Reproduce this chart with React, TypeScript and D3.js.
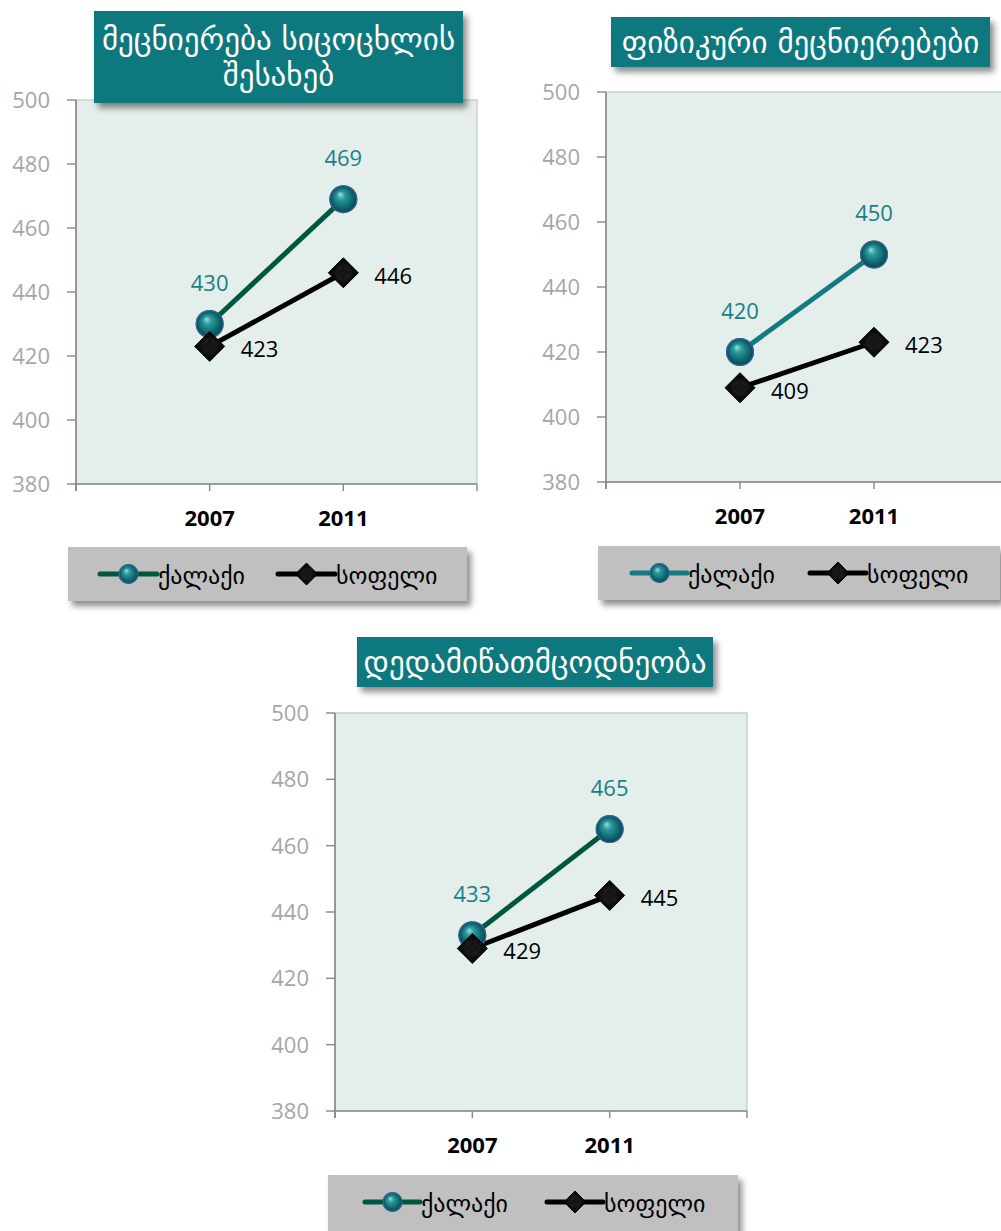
import React from "react";
import * as d3 from "d3";

// Categories and value axis
const years = ["2007", "2011"];
const yTicks = [380, 400, 420, 440, 460, 480, 500];
const yDomain = [380, 500];

// Series labels
const seriesNames = ["ქალაქი", "სოფელი"];

// Life science
const lifeTitle = ["მეცნიერება სიცოცხლის", "შესახებ"];
const lifeCity = [430, 469];
const lifeRural = [423, 446];

// Physical science
const physTitle = ["ფიზიკური მეცნიერებები"];
const physCity = [420, 450];
const physRural = [409, 423];

// Earth science
const earthTitle = ["დედამიწათმცოდნეობა"];
const earthCity = [433, 465];
const earthRural = [429, 445];

const GEO_FONT = "'DejaVu Sans', sans-serif";
const NUM_FONT = "'Open Sans', 'Liberation Sans', sans-serif";

type Box = { x: number; y: number; w: number; h: number };

type PanelProps = {
  id: string;
  plot: { left: number; top: number; right: number; bottom: number };
  title: string[];
  titleBox: Box;
  titleSize: number;
  legendBox: Box;
  legendItems: { lineX0: number; lineX1: number; textX: number }[];
  city: number[];
  rural: number[];
  cityColor: string;
};

function Sphere({ cx, cy, r }: { cx: number; cy: number; r: number }) {
  return (
    <g>
      <circle cx={cx} cy={cy} r={r} fill="url(#sphereGrad)" />
      <circle cx={cx} cy={cy} r={r - 0.6} fill="none" stroke="#3f6ea8" strokeWidth={1.2} opacity={0.8} />
    </g>
  );
}

function Diamond({ cx, cy, s }: { cx: number; cy: number; s: number }) {
  const pts = `${cx},${cy - s} ${cx + s},${cy} ${cx},${cy + s} ${cx - s},${cy}`;
  return (
    <g>
      <polygon points={pts} fill="url(#diamondGrad)" stroke="#000" strokeWidth={1} />
      <polygon
        points={`${cx},${cy - s * 0.45} ${cx + s * 0.45},${cy} ${cx},${cy + s * 0.45} ${cx - s * 0.45},${cy}`}
        fill="#111"
        opacity={0.8}
      />
    </g>
  );
}

function Panel(p: PanelProps) {
  const { left, top, right, bottom } = p.plot;
  const x = d3.scalePoint<string>().domain(years).range([left, right]).padding(1);
  const y = d3.scaleLinear().domain(yDomain).range([bottom, top]);
  const step = x.step();
  const xTickPos = d3.range(0, years.length + 2).map((i) => left + i * step);

  const line = d3
    .line<number>()
    .x((_, i) => x(years[i]) as number)
    .y((d) => y(d));

  const legendCy = p.legendBox.y + 27;

  return (
    <g>
      {/* plot area */}
      <rect x={left} y={top} width={right - left} height={bottom - top} fill="#e4eeeb" stroke="#c3c7c6" strokeWidth={1.2} />
      {/* value axis */}
      <line x1={left} y1={top} x2={left} y2={bottom + 7} stroke="#888" strokeWidth={1.6} />
      {yTicks.map((t) => (
        <g key={t}>
          <line x1={left - 9} x2={left} y1={y(t)} y2={y(t)} stroke="#888" strokeWidth={1.4} />
          <text
            x={left - 26}
            y={y(t)}
            dy="0.36em"
            textAnchor="end"
            fontFamily={NUM_FONT}
            fontSize={22}
            fill="#a6a6a6"
          >
            {t}
          </text>
        </g>
      ))}
      {/* category axis */}
      <line x1={left} y1={bottom} x2={right} y2={bottom} stroke="#888" strokeWidth={1.6} />
      {xTickPos.map((tx, i) => (
        <line key={i} x1={tx} x2={tx} y1={bottom} y2={bottom + 7} stroke="#888" strokeWidth={1.4} />
      ))}
      {years.map((yr) => (
        <text
          key={yr}
          x={x(yr)}
          y={bottom + 34}
          dy="0.36em"
          textAnchor="middle"
          fontFamily={NUM_FONT}
          fontWeight="bold"
          fontSize={22}
          fill="#000"
        >
          {yr}
        </text>
      ))}

      {/* series */}
      <path d={line(p.city) || ""} fill="none" stroke={p.cityColor} strokeWidth={5} />
      <path d={line(p.rural) || ""} fill="none" stroke="#000" strokeWidth={5} />
      {p.city.map((v, i) => (
        <Sphere key={`c${i}`} cx={x(years[i]) as number} cy={y(v)} r={14} />
      ))}
      {p.rural.map((v, i) => (
        <Diamond key={`r${i}`} cx={x(years[i]) as number} cy={y(v)} s={15} />
      ))}
      {p.city.map((v, i) => (
        <text
          key={`cl${i}`}
          x={x(years[i]) as number}
          y={y(v) - 41}
          dy="0.36em"
          textAnchor="middle"
          fontFamily={NUM_FONT}
          fontSize={22}
          fill="#1b7f86"
        >
          {v}
        </text>
      ))}
      {p.rural.map((v, i) => (
        <text
          key={`rl${i}`}
          x={(x(years[i]) as number) + 31}
          y={y(v) + 3}
          dy="0.36em"
          textAnchor="start"
          fontFamily={NUM_FONT}
          fontSize={22}
          fill="#000"
        >
          {v}
        </text>
      ))}

      {/* title */}
      <rect
        x={p.titleBox.x}
        y={p.titleBox.y}
        width={p.titleBox.w}
        height={p.titleBox.h}
        fill="#11787d"
        filter="url(#shadow)"
      />
      {p.title.map((t, i) => {
        const lineH = 36;
        const cy = p.titleBox.y + p.titleBox.h / 2 + 1 + (i - (p.title.length - 1) / 2) * lineH;
        return (
          <text
            key={i}
            x={p.titleBox.x + p.titleBox.w / 2}
            y={cy}
            dy="0.32em"
            textAnchor="middle"
            fontFamily={GEO_FONT}
            fontSize={p.titleSize}
            fill="#fff"
          >
            {t}
          </text>
        );
      })}

      {/* legend */}
      <rect
        x={p.legendBox.x}
        y={p.legendBox.y}
        width={p.legendBox.w}
        height={p.legendBox.h}
        fill="#c0c0c0"
        filter="url(#shadow)"
      />
      {p.legendItems.map((it, i) => {
        const mid = (it.lineX0 + it.lineX1) / 2;
        return (
          <g key={i}>
            <line
              x1={it.lineX0}
              x2={it.lineX1}
              y1={legendCy}
              y2={legendCy}
              stroke={i === 0 ? p.cityColor : "#000"}
              strokeWidth={5}
              strokeLinecap="round"
            />
            {i === 0 ? <Sphere cx={mid} cy={legendCy} r={10} /> : <Diamond cx={mid} cy={legendCy} s={11} />}
            <text
              x={it.textX}
              y={legendCy + 3}
              dy="0.3em"
              fontFamily={GEO_FONT}
              fontSize={24}
              fill="#000"
            >
              {seriesNames[i]}
            </text>
          </g>
        );
      })}
    </g>
  );
}

export default function App() {
  return (
    <svg
      width={1001}
      height={1231}
      viewBox="0 0 1001 1231"
      style={{ position: "absolute", left: 0, top: 0, background: "#fff" }}
    >
      <defs>
        <radialGradient id="sphereGrad" cx="50%" cy="50%" r="50%" fx="38%" fy="32%">
          <stop offset="0%" stopColor="#9be0dc" />
          <stop offset="30%" stopColor="#2a9a9c" />
          <stop offset="70%" stopColor="#0f6a72" />
          <stop offset="100%" stopColor="#0b3f52" />
        </radialGradient>
        <radialGradient id="diamondGrad" cx="50%" cy="50%" r="55%">
          <stop offset="0%" stopColor="#333" />
          <stop offset="60%" stopColor="#0c0c0c" />
          <stop offset="100%" stopColor="#000" />
        </radialGradient>
        <filter id="shadow" x="-10%" y="-20%" width="125%" height="150%">
          <feDropShadow dx={4} dy={5} stdDeviation={3} floodColor="#000" floodOpacity={0.45} />
        </filter>
      </defs>

      <Panel
        id="life"
        plot={{ left: 76, top: 100, right: 477, bottom: 484 }}
        title={lifeTitle}
        titleBox={{ x: 94, y: 11, w: 369, h: 92 }}
        titleSize={31}
        legendBox={{ x: 68, y: 547, w: 399, h: 54 }}
        legendItems={[
          { lineX0: 100, lineX1: 157, textX: 158 },
          { lineX0: 278, lineX1: 335, textX: 336 },
        ]}
        city={lifeCity}
        rural={lifeRural}
        cityColor="#00573f"
      />
      <Panel
        id="phys"
        plot={{ left: 606, top: 92, right: 1008, bottom: 482 }}
        title={physTitle}
        titleBox={{ x: 611, y: 17, w: 379, h: 50 }}
        titleSize={31}
        legendBox={{ x: 598, y: 546, w: 402, h: 54 }}
        legendItems={[
          { lineX0: 632, lineX1: 687, textX: 688 },
          { lineX0: 810, lineX1: 866, textX: 867 },
        ]}
        city={physCity}
        rural={physRural}
        cityColor="#137a7f"
      />
      <Panel
        id="earth"
        plot={{ left: 335, top: 713, right: 747, bottom: 1111 }}
        title={earthTitle}
        titleBox={{ x: 357, y: 637, w: 356, h: 50 }}
        titleSize={31}
        legendBox={{ x: 328, y: 1175, w: 410, h: 64 }}
        legendItems={[
          { lineX0: 365, lineX1: 420, textX: 421 },
          { lineX0: 547, lineX1: 603, textX: 604 },
        ]}
        city={earthCity}
        rural={earthRural}
        cityColor="#00573f"
      />
    </svg>
  );
}
